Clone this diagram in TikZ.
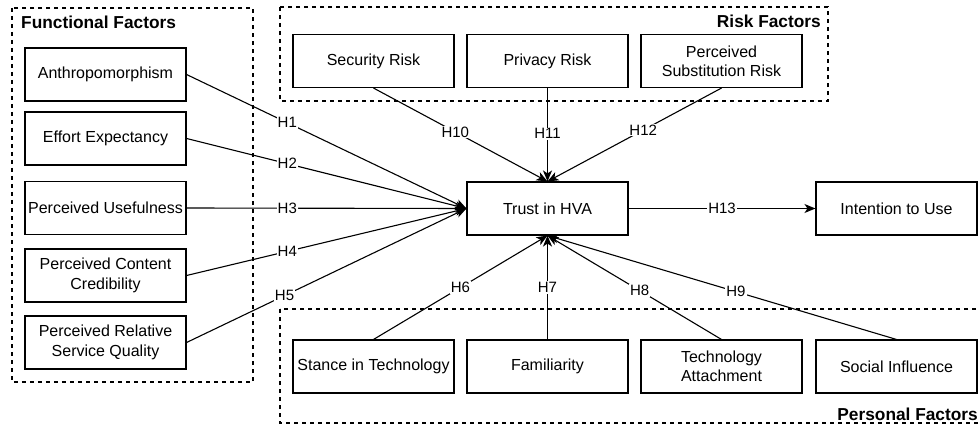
\documentclass[tikz,border=0pt]{standalone}
\usepackage{fontspec}
\setmainfont{Liberation Sans}
\usetikzlibrary{arrows.meta}
\tikzset{
  box/.style={draw, line width=1.1pt, minimum width=161pt, minimum height=53pt,
    inner sep=0pt, align=center, font=\fontsize{16}{19.3}\selectfont},
  grp/.style={draw, line width=1.1pt, dash pattern=on 4pt off 4pt},
  grptitle/.style={inner sep=0pt, font=\fontsize{17.3}{20}\selectfont\bfseries},
  arr/.style={line width=1.1pt, -{Stealth[length=11pt,width=9pt,inset=3pt]}},
  lbl/.style={fill=white, inner sep=1pt, font=\fontsize{15}{17}\selectfont},
}
\begin{document}
\begin{tikzpicture}[x=1pt, y=-1pt]
\useasboundingbox (0,0) rectangle (980,425);
\clip (0,0) rectangle (980,425);

% group frames
\draw[grp] (12,8) rectangle (253,382);
\draw[grp] (280,7) rectangle (828,101);
\draw[grp] (280,309) rectangle (990,423);
\node[grptitle, anchor=west] (tfun) at (21,22) {Functional Factors};
\node[grptitle, anchor=east] (trisk) at (821,21) {Risk Factors};
\node[grptitle, anchor=east] (tpers) at (978,414) {Personal Factors};

% functional factors
\node[box] (anth) at (105.5,74.5) {Anthropomorphism};
\node[box] (eff)  at (105.5,138.5) {Effort Expectancy};
\node[box] (pu)   at (105.5,208) {Perceived Usefulness};
\node[box] (pcc)  at (105.5,275.5) {Perceived Content\\Credibility};
\node[box] (prsq) at (105.5,342.5) {Perceived Relative\\Service Quality};

% risk factors
\node[box] (sec)  at (373.5,61) {Security Risk};
\node[box] (priv) at (547.5,61) {Privacy Risk};
\node[box] (psr)  at (721.5,61) {Perceived\\Substitution Risk};

% central constructs
\node[box] (trust) at (547.5,208.5) {Trust in HVA};
\node[box] (itu)   at (896.5,208.5) {Intention to Use};

% personal factors
\node[box] (stance) at (373.5,366.5) {Stance in Technology};
\node[box] (fam)    at (547.5,366.5) {Familiarity};
\node[box] (tatt)   at (721.5,366.5) {Technology\\Attachment};
\node[box] (soc)    at (896.5,366.5) {Social Influence};

% hypotheses
\draw[arr] (anth.east) -- node[lbl, pos=0.36] {H1} (trust.west);
\draw[arr] (eff.east)  -- node[lbl, pos=0.36] {H2} (trust.west);
\draw[arr] (pu.east)   -- node[lbl, pos=0.36] {H3} (trust.west);
\draw[arr] (pcc.east)  -- node[lbl, pos=0.36] {H4} (trust.west);
\draw[arr] (prsq.east) -- node[lbl, pos=0.35] {H5} (trust.west);

\draw[arr] (sec.south)  -- node[lbl, pos=0.47] {H10} (trust.north);
\draw[arr] (priv.south) -- node[lbl, pos=0.49] {H11} (trust.north);
\draw[arr] (psr.south)  -- node[lbl, pos=0.45] {H12} (trust.north);

\draw[arr] (stance.north) -- node[lbl, pos=0.5] {H6} (trust.south);
\draw[arr] (fam.north)    -- node[lbl, pos=0.5] {H7} (trust.south);
\draw[arr] (tatt.north)   -- node[lbl, pos=0.47] {H8} (trust.south);
\draw[arr] (soc.north)    -- node[lbl, pos=0.46] {H9} (trust.south);

\draw[arr] (trust.east) -- node[lbl, pos=0.5] {H13} (itu.west);
\end{tikzpicture}
\end{document}
